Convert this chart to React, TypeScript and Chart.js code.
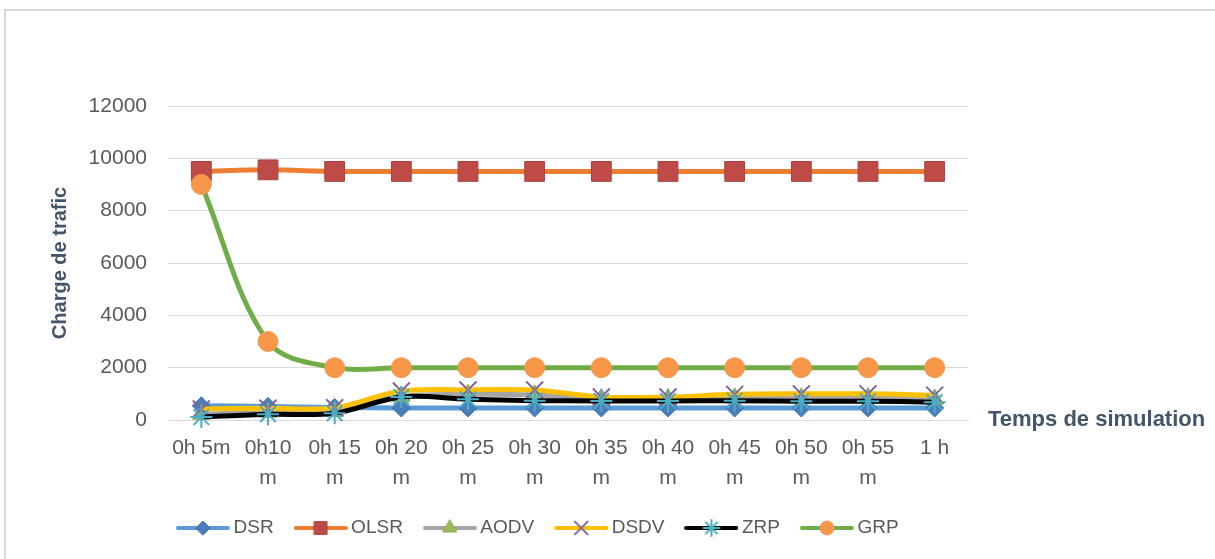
import React, { useEffect, useRef } from 'react';
import { Chart, registerables } from 'chart.js';
import { drawPoint } from 'chart.js/helpers';

Chart.register(...registerables);

// ---------- data ----------
const categories: (string | string[])[] = [
  '0h 5m',
  ['0h10', 'm'],
  ['0h 15', 'm'],
  ['0h 20', 'm'],
  ['0h 25', 'm'],
  ['0h 30', 'm'],
  ['0h 35', 'm'],
  ['0h 40', 'm'],
  ['0h 45', 'm'],
  ['0h 50', 'm'],
  ['0h 55', 'm'],
  '1 h',
];
const yTickValues = [0, 2000, 4000, 6000, 8000, 10000, 12000];
const seriesNames = ['DSR', 'OLSR', 'AODV', 'DSDV', 'ZRP', 'GRP'];
const dsrValues = [540, 520, 480, 460, 460, 460, 460, 460, 460, 460, 460, 460];
const olsrValues = [9500, 9560, 9500, 9500, 9500, 9500, 9500, 9500, 9500, 9500, 9500, 9500];
const aodvValues = [220, 300, 330, 900, 980, 960, 820, 820, 850, 850, 850, 800];
const dsdvValues = [420, 450, 470, 1110, 1150, 1150, 880, 880, 980, 1000, 1000, 950];
const zrpValues = [110, 220, 260, 880, 790, 740, 730, 730, 740, 720, 720, 680];
const grpValues = [9000, 3000, 2000, 2000, 2000, 2000, 2000, 2000, 2000, 2000, 2000, 2000];
const xAxisLabel = 'Temps de simulation';
const yAxisLabel = 'Charge de trafic';

// ---------- styles ----------
const FONT = '"Liberation Sans", Arial, sans-serif';
const TEXT = '#595959';
const TITLE = '#44546a';
const GRID = '#d9d9d9';

const styles = [
  { line: '#5b9bd5', point: 'rectRot', fill: '#4a7ebb', stroke: '#3f6fa8', r: 9, bw: 1, lr: 7 },
  { line: '#ed7d31', point: 'rect', fill: '#be4b48', stroke: '#a9403d', r: 14, bw: 1, lr: 9 },
  { line: '#a5a5a5', point: 'triangle', fill: '#9bbb59', stroke: '#8aa84d', r: 10, bw: 1, lr: 8 },
  { line: '#ffc000', point: 'crossRot', fill: '#8064a2', stroke: '#8064a2', r: 12, bw: 2, lr: 9 },
  { line: '#000000', point: 'star', fill: '#4bacc6', stroke: '#4bacc6', r: 11, bw: 2, lr: 8 },
  { line: '#70ad47', point: 'circle', fill: '#f79646', stroke: '#f39a55', r: 10, bw: 1, lr: 7 },
];

const seriesValues = [dsrValues, olsrValues, aodvValues, dsdvValues, zrpValues, grpValues];

function makeIcon(s: typeof styles[number]): HTMLCanvasElement {
  const c = document.createElement('canvas');
  c.width = 54;
  c.height = 22;
  const ctx = c.getContext('2d')!;
  ctx.strokeStyle = s.line;
  ctx.lineWidth = 4;
  ctx.lineCap = 'round';
  ctx.beginPath();
  ctx.moveTo(2, 11);
  ctx.lineTo(52, 11);
  ctx.stroke();
  ctx.fillStyle = s.fill;
  ctx.strokeStyle = s.stroke;
  ctx.lineWidth = s.bw;
  drawPoint(ctx, { pointStyle: s.point as any, radius: s.lr, rotation: 0, borderWidth: s.bw }, 27, 11);
  return c;
}

const legendPlacement = {
  id: 'legendPlacement',
  afterLayout(chart: any) {
    const lg = chart.legend;
    if (!lg) return;
    const h = lg.height;
    lg.left = 156;
    lg.top = 492.5;
    lg.bottom = lg.top + h;
  },
};

const xAxisTitle = {
  id: 'xAxisTitle',
  afterDraw(chart: any) {
    const { ctx, chartArea, scales } = chart;
    ctx.save();
    ctx.font = `bold 22px ${FONT}`;
    ctx.fillStyle = TITLE;
    ctx.textAlign = 'left';
    ctx.textBaseline = 'middle';
    ctx.fillText(xAxisLabel, chartArea.right + 20, scales.y.getPixelForValue(0));
    ctx.restore();
  },
};

export default function App() {
  const ref = useRef<HTMLCanvasElement>(null);

  useEffect(() => {
    const icons = styles.map(makeIcon);
    const datasets = seriesNames.map((name, i) => ({
      label: name,
      data: seriesValues[i],
      borderColor: styles[i].line,
      backgroundColor: styles[i].line,
      borderWidth: 5,
      tension: 0.35,
      pointStyle: styles[i].point as any,
      pointRadius: styles[i].r,
      pointHoverRadius: styles[i].r,
      pointBackgroundColor: styles[i].fill,
      pointBorderColor: styles[i].stroke,
      pointBorderWidth: styles[i].bw,
      clip: false as any,
      order: seriesNames.length - 1 - i,
    }));

    const chart = new Chart(ref.current!, {
      type: 'line',
      data: { labels: categories as any, datasets },
      options: {
        responsive: false,
        animation: false,
        devicePixelRatio: 1,
        layout: { padding: { left: 0, top: 106, right: 247, bottom: 0 } },
        plugins: {
          tooltip: { enabled: false },
          legend: {
            position: 'bottom',
            align: 'start',
            labels: {
              usePointStyle: true,
              pointStyleWidth: 42,
              padding: 26,
              color: TEXT,
              font: { family: FONT, size: 19 },
              generateLabels: (c: any) =>
                c.data.datasets.map((ds: any, i: number) => ({
                  text: ds.label,
                  fillStyle: styles[i].line,
                  strokeStyle: styles[i].line,
                  lineWidth: 0,
                  hidden: !c.isDatasetVisible(i),
                  datasetIndex: i,
                  pointStyle: icons[i],
                  fontColor: TEXT,
                })),
            },
          },
        },
        scales: {
          x: {
            offset: true,
            grid: { display: false, drawTicks: false },
            border: { display: true, color: GRID, width: 1 },
            ticks: {
              padding: 14,
              maxRotation: 0,
              autoSkip: false,
              color: TEXT,
              font: { family: FONT, size: 21, lineHeight: 1.4 },
            },
            afterFit: (s: any) => {
              const lg = s.chart.legend;
              s.height = 559 - 420 - (lg ? lg.height : 0);
            },
          },
          y: {
            min: 0,
            max: 12000,
            afterBuildTicks: (s: any) => {
              s.ticks = yTickValues.map((v) => ({ value: v }));
            },
            grid: { color: GRID, drawTicks: false, lineWidth: 1 },
            border: { display: false },
            ticks: {
              padding: 21,
              color: TEXT,
              font: { family: FONT, size: 21 },
              callback: (v: any) => String(v),
            },
            title: {
              display: true,
              text: yAxisLabel,
              color: TITLE,
              font: { family: FONT, size: 20, weight: 'bold' },
              padding: { top: 48, bottom: 0 },
            },
            afterFit: (s: any) => {
              s.width = 168;
            },
          },
        },
      },
      plugins: [legendPlacement, xAxisTitle],
    });
    return () => chart.destroy();
  }, []);

  return (
    <div
      style={{
        position: 'absolute',
        left: 0,
        top: 0,
        width: 1215,
        height: 559,
        background: '#ffffff',
        overflow: 'hidden',
      }}
    >
      <div
        style={{
          position: 'absolute',
          left: 4,
          top: 9,
          width: 1220,
          height: 560,
          borderLeft: '2px solid #d9d9d9',
          borderTop: '2px solid #d9d9d9',
        }}
      />
      <canvas
        ref={ref}
        width={1215}
        height={559}
        style={{ position: 'absolute', left: 0, top: 0, width: 1215, height: 559 }}
      />
    </div>
  );
}
